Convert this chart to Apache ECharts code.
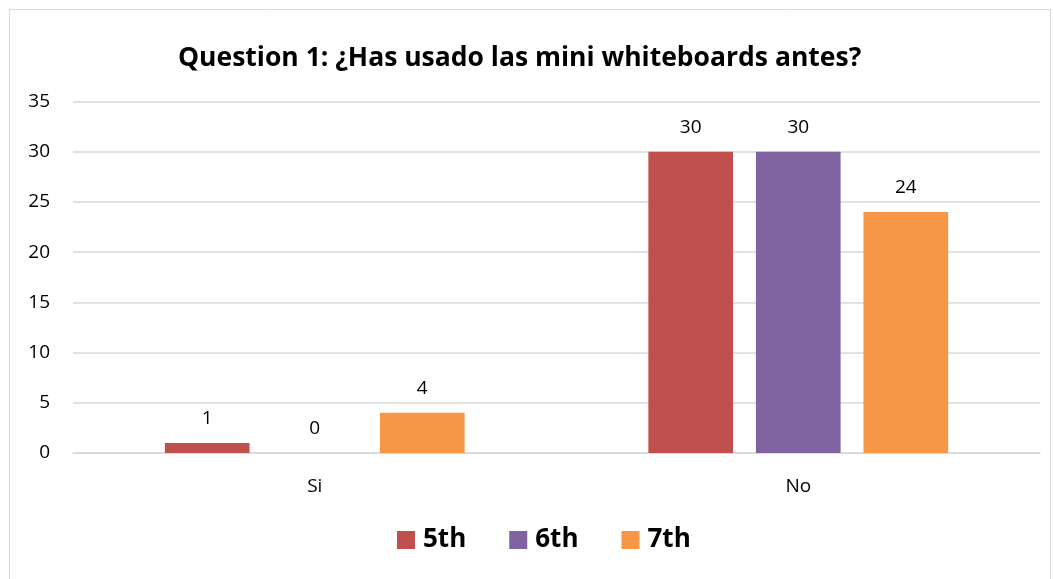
<!DOCTYPE html>
<html><head><meta charset="utf-8">
<script src="https://cdn.jsdelivr.net/npm/echarts@6/dist/echarts.min.js"></script>
<style>html,body{margin:0;padding:0;background:#fff}#c{width:1053px;height:579px}</style>
</head><body><div id="c"></div>
<script>
const categories = ['Si', 'No'];
const s5th = [1, 30];
const s6th = [0, 30];
const s7th = [4, 24];
const seriesNames = ['5th', '6th', '7th'];
const colors = ['#C0504D', '#8064A2', '#F79646'];
const F = '"Open Sans", Lato, sans-serif';
const chart = echarts.init(document.getElementById('c'));
const lbl = {show: true, position: 'top', distance: 15, color: '#000', fontSize: 19, fontFamily: F};
chart.setOption({
  animation: false,
  graphic: [{type: 'rect', shape: {x: 9.5, y: 9.5, width: 1041, height: 600}, style: {fill: 'none', stroke: '#D9D9D9', lineWidth: 1}, silent: true}],
  title: {text: 'Question 1: ¿Has usado las mini whiteboards antes?', left: 173, top: 40,
    textStyle: {fontFamily: F, fontWeight: 'bold', fontSize: 26.5, color: '#000'}},
  legend: {top: 522, left: 392, itemWidth: 18, itemHeight: 18, itemGap: 43,
    icon: 'rect', textStyle: {fontFamily: F, fontWeight: 'bold', fontSize: 26, color: '#000', padding: [0,0,0,3]}},
  grid: {left: 73, right: 13, top: 101.5, bottom: 126, containLabel: false},
  xAxis: {type: 'category', data: categories,
    axisLine: {lineStyle: {color: '#D9D9D9', width: 1.5}}, axisTick: {show: false},
    axisLabel: {margin: 24, color: '#000', fontSize: 19, fontFamily: F}},
  yAxis: {type: 'value', min: 0, max: 35, interval: 5,
    axisLine: {show: false}, axisTick: {show: false},
    splitLine: {lineStyle: {color: '#D9D9D9', width: 1.5}},
    axisLabel: {margin: 23, color: '#000', fontSize: 19, fontFamily: F}},
  series: [
    {name: seriesNames[0], type: 'bar', data: s5th, itemStyle: {color: colors[0]}, label: lbl, barGap: '27%', barCategoryGap: '38%'},
    {name: seriesNames[1], type: 'bar', data: s6th, itemStyle: {color: colors[1]}, label: lbl},
    {name: seriesNames[2], type: 'bar', data: s7th, itemStyle: {color: colors[2]}, label: lbl}
  ]
});
</script></body></html>
